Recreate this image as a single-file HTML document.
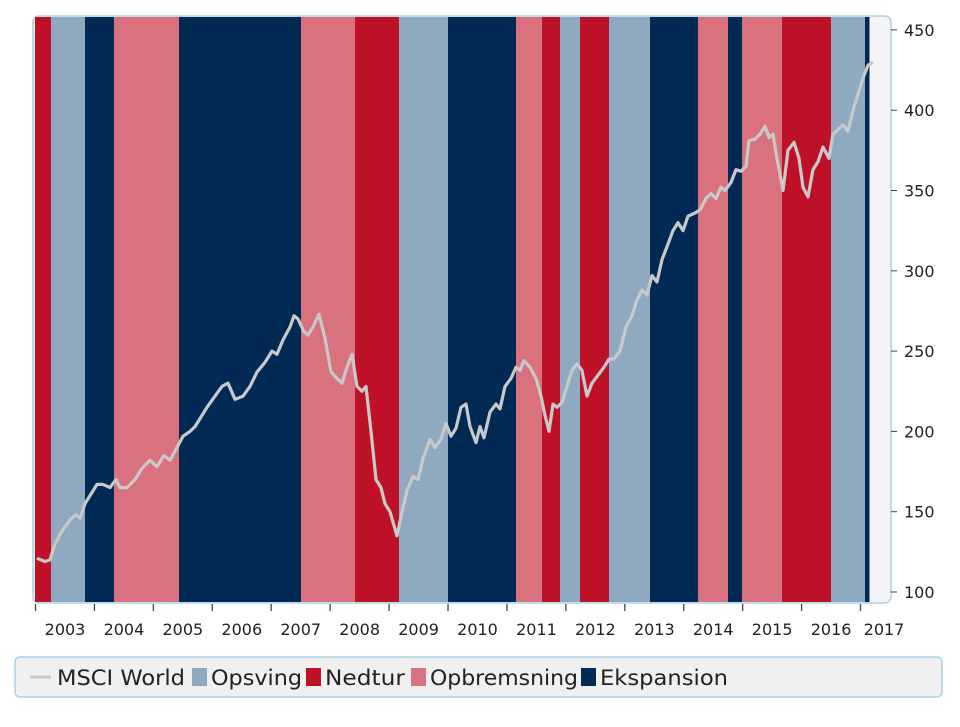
<!DOCTYPE html>
<html><head><meta charset="utf-8"><style>
body{margin:0;background:#fff;width:960px;height:723px;overflow:hidden;font-family:"DejaVu Sans",sans-serif}
</style></head><body>
<svg id="s" width="960" height="723" xmlns="http://www.w3.org/2000/svg" font-family="DejaVu Sans, sans-serif">
<rect x="33" y="16" width="858" height="587" rx="6" fill="#f4f4f4" stroke="#a9d3e6" stroke-width="1.5"/>
<g id="bands"></g>
<path id="ln" fill="none" stroke="#c9c9c9" stroke-width="3.2" stroke-linejoin="round"/>
<g id="ax" font-size="16" fill="#222"></g>
<rect x="15" y="657" width="927" height="40" rx="5" fill="#f0f0f0" stroke="#a9d3e6" stroke-width="1.5"/>
<line x1="30" y1="677" x2="51" y2="677" stroke="#c9c9c9" stroke-width="3"/>
<g font-size="21" fill="#222">
<text x="57" y="685" textLength="128" lengthAdjust="spacingAndGlyphs">MSCI World</text>
<rect x="192" y="668" width="15" height="18" fill="#8fa9c0"/>
<text x="211" y="685" textLength="91" lengthAdjust="spacingAndGlyphs">Opsving</text>
<rect x="306" y="668" width="15" height="18" fill="#be1128"/>
<text x="325" y="685" textLength="80" lengthAdjust="spacingAndGlyphs">Nedtur</text>
<rect x="411" y="668" width="15" height="18" fill="#d9717f"/>
<text x="430" y="685" textLength="148" lengthAdjust="spacingAndGlyphs">Opbremsning</text>
<rect x="581" y="668" width="15" height="18" fill="#002a54"/>
<text x="600" y="685" textLength="128" lengthAdjust="spacingAndGlyphs">Ekspansion</text>
</g>
</svg>
<script>
var R="#be1128",L="#8fa9c0",N="#002a54",P="#d9717f";
var b=[[35,51,R],[51,85,L],[85,114,N],[114,179,P],[179,301,N],[301,355,P],[355,399,R],[399,448,L],[448,516,N],[516,542,P],[542,560,R],[560,580,L],[580,609,R],[609,650,L],[650,698,N],[698,728,P],[728,742,N],[742,782,P],[782,831,R],[831,865,L],[865,869,N]];
var h="";b.forEach(function(a){h+='<rect x="'+a[0]+'" y="17" width="'+(a[1]-a[0]+0.5)+'" height="585" fill="'+a[2]+'"/>';});
document.getElementById("bands").innerHTML=h;
var d=[37,121,45,119,50,120,55,130,62,138,70,145,76,148,80,146,85,155,90,160,97,167,103,167,110,165,116,170,120,165,127,165,135,170,142,177,150,182,157,178,164,185,170,182,177,190,183,197,190,200,195,203,200,208,207,215,215,222,222,228,228,230,235,220,243,222,250,228,257,237,265,243,272,250,277,248,283,257,290,265,294,272,298,270,304,262,308,260,313,265,319,273,325,258,331,237,337,233,342,230,347,240,352,248,357,228,362,225,366,228,371,200,376,170,381,165,385,155,390,150,397,135,402,150,407,163,413,172,418,170,423,183,430,195,435,190,441,195,446,205,451,197,456,202,461,215,466,217,470,203,476,193,480,203,484,196,490,212,496,217,500,214,505,228,511,233,516,240,520,238,524,244,530,240,536,233,541,222,545,210,549,200,553,217,557,215,562,218,567,228,572,238,577,242,582,238,587,222,592,230,598,235,604,240,609,245,614,245,620,250,626,265,632,272,637,282,642,288,647,285,652,297,657,293,662,307,667,315,673,325,678,330,683,325,688,334,695,336,700,338,706,345,711,348,716,345,721,352,725,350,731,355,736,363,741,362,746,365,749,381,755,382,760,385,765,390,769,383,773,385,777,370,783,350,788,375,794,380,799,370,803,352,808,346,813,363,818,368,823,377,829,370,833,385,838,388,843,391,848,387,853,400,858,410,863,420,868,428,873,430];
var p="";for(var i=0;i<d.length;i+=2){p+=(i?"L":"M")+d[i]+","+(592-(d[i+1]-100)*1.606).toFixed(1);}
document.getElementById("ln").setAttribute("d",p);
var a="";
for(var v=100;v<=450;v+=50){var y=592-(v-100)*1.606;a+='<line x1="891" y1="'+y+'" x2="897" y2="'+y+'" stroke="#444"/><text x="904" y="'+(y+6)+'">'+v+'</text>';}
for(var k=0;k<=14;k++){var x=35.5+58.93*k;a+='<line x1="'+x+'" y1="604" x2="'+x+'" y2="611" stroke="#444" stroke-width="1.3"/>';if(k<14)a+='<text x="'+(x+29.5)+'" y="635" text-anchor="middle">'+(2003+k)+'</text>';}
a+='<text x="884" y="635" text-anchor="middle">2017</text>';
document.getElementById("ax").innerHTML=a;
</script>
</body></html>
